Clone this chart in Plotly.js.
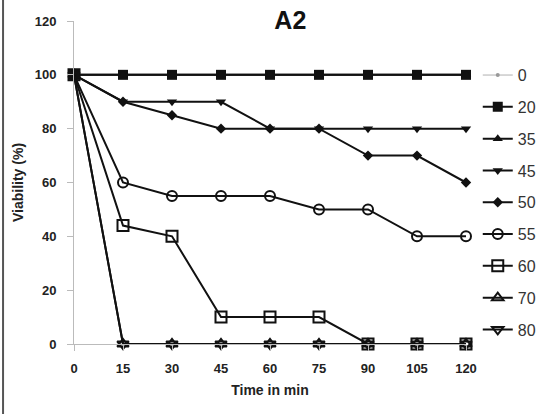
<!DOCTYPE html>
<html><head><meta charset="utf-8">
<script src="https://cdn.plot.ly/plotly-3.0.1.min.js"></script>
<style>html,body{margin:0;padding:0;background:#fff;}#c{width:553px;height:414px;}</style>
</head><body><div id="c"></div>
<script>
const time = [0, 15, 30, 45, 60, 75, 90, 105, 120];
const s0  = [100, 100, 100, 100, 100, 100, 100, 100, 100];
const s20 = [100, 100, 100, 100, 100, 100, 100, 100, 100];
const s35 = [100, 100, 100, 100, 100, 100, 100, 100, 100];
const s45 = [100, 90, 90, 90, 80, 80, 80, 80, 80];
const s50 = [100, 90, 85, 80, 80, 80, 70, 70, 60];
const s55 = [100, 60, 55, 55, 55, 50, 50, 40, 40];
const s60 = [100, 44, 40, 10, 10, 10, 0, 0, 0];
const s70 = [100, 0, 0, 0, 0, 0, 0, 0, 0];
const s80 = [100, 0, 0, 0, 0, 0, 0, 0, 0];
const names = ['0', '20', '35', '45', '50', '55', '60', '70', '80'];
const xTicks = [0, 15, 30, 45, 60, 75, 90, 105, 120];
const yTicks = [0, 20, 40, 60, 80, 100, 120];

const series = [s0, s20, s35, s45, s50, s55, s60, s70, s80];
const symbols = ['circle', 'square', 'triangle-up', 'triangle-down', 'diamond', 'circle-open', 'square-open', 'triangle-up-open', 'triangle-down-open'];
const sizes = [4, 10, 9, 9, 8, 10, 11, 10, 10];

const traces = series.map((y, i) => ({
  x: time, y: y, name: names[i], type: 'scatter', mode: 'lines+markers',
  legendgroup: 'g' + i,
  cliponaxis: false,
  line: {color: i === 0 ? '#b0b0b0' : '#111', width: i === 0 ? 1 : 2},
  marker: {symbol: symbols[i], size: sizes[i], color: i === 0 ? '#999' : '#111',
           line: {color: '#111', width: symbols[i].endsWith('open') ? 2 : 0}}
}));

const F = 'Liberation Sans, Arial, sans-serif';
const layout = {
  width: 553, height: 414,
  margin: {l: 74, r: 87, t: 21, b: 70},
  paper_bgcolor: '#fff', plot_bgcolor: '#fff',
  showlegend: true,
  title: {text: 'A2', x: 0.525, xanchor: 'center', y: 0.95, yanchor: 'middle',
          font: {family: F, size: 25, color: '#111', weight: 'bold'}},
  xaxis: {
    range: [0, 120], tickvals: xTicks, ticktext: xTicks.map(String),
    showgrid: false, zeroline: false, showline: true, linecolor: '#bbb', linewidth: 1,
    ticks: 'outside', ticklen: 6, tickcolor: '#bbb', ticklabelstandoff: 6,
    tickfont: {family: F, size: 13, color: '#222', weight: 'bold'},
    title: {text: 'Time in min', standoff: 10,
            font: {family: F, size: 14, color: '#222', weight: 'bold'}}
  },
  yaxis: {
    range: [0, 120], tickvals: yTicks, ticktext: yTicks.map(String),
    showgrid: false, zeroline: false, showline: true, linecolor: '#bbb', linewidth: 1,
    ticks: 'outside', ticklen: 6, tickcolor: '#bbb', ticklabelstandoff: 8,
    tickfont: {family: F, size: 13, color: '#222', weight: 'bold'},
    title: {text: 'Viability (%)', standoff: 7,
            font: {family: F, size: 14, color: '#222', weight: 'bold'}}
  },
  legend: {
    x: 1.03, xanchor: 'left', y: 0.885, yanchor: 'top',
    traceorder: 'grouped', tracegroupgap: 8,
    font: {family: F, size: 16, color: '#333'},
    bgcolor: 'rgba(0,0,0,0)', borderwidth: 0
  },
  shapes: [
    {type: 'line', xref: 'paper', yref: 'paper', x0: -0.181, x1: -0.181, y0: -0.22, y1: 1.07,
     line: {color: '#555', width: 2}}
  ]
};
Plotly.newPlot('c', traces, layout, {displayModeBar: false, staticPlot: true});
</script></body></html>
